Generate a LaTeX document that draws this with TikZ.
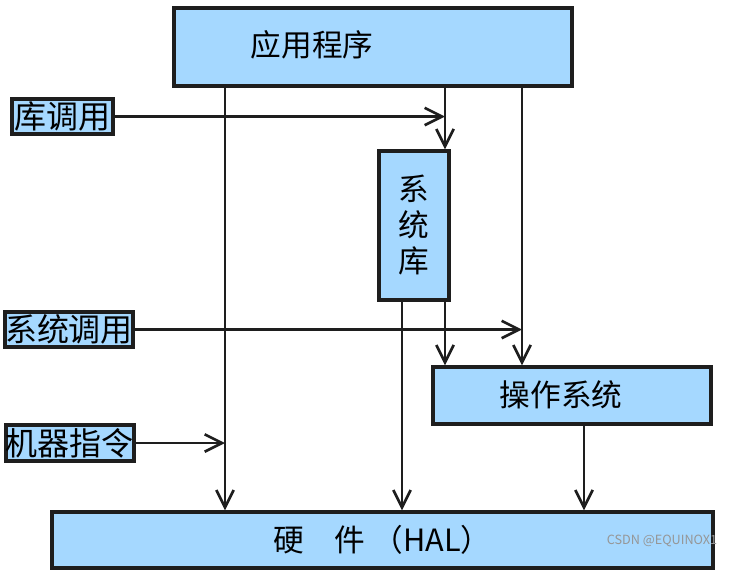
\documentclass[tikz,border=0pt]{standalone}
\usepackage{fontspec}
\setmainfont{Noto Sans CJK SC}
\usetikzlibrary{arrows.meta}

\tikzset{every picture/.style={line width=0.75pt}}
\tikzset{
  blockbox/.style={draw={rgb, 255:red, 30; green, 30; blue, 30 }, fill={rgb, 255:red, 165; green, 216; blue, 255 }, line width=2.6pt, inner sep=0pt, font=\fontsize{23}{27}\selectfont},
  calltag/.style={blockbox, line width=2.4pt, font=\fontsize{24}{28}\selectfont},
  flow/.style={draw={rgb, 255:red, 30; green, 30; blue, 30 }, line width=2pt, -{Straight Barb[length=13pt,width=13pt]}}
}

\begin{document}
\begin{tikzpicture}[x=0.75pt,y=0.75pt,yscale=-1,xscale=1]
\path[use as bounding box] (0,0) rectangle (735,586);

%Shape: Rectangle
\node [blockbox, minimum width=298.5pt, minimum height=58.5pt] (app) at (373,47) {};
% Text Node
\node [font=\fontsize{23}{27}\selectfont] (apptxt) at (312,45) {应用程序};
%Shape: Rectangle
\node [blockbox, minimum width=52.5pt, minimum height=111.75pt, align=center] (syslib) at (414,225.5) {系\\统\\库};
%Shape: Rectangle
\node [blockbox, minimum width=208.5pt, minimum height=42.75pt] (os) at (572,395.5) {};
% Text Node
\node [font=\fontsize{23}{27}\selectfont] (ostxt) at (561,395) {操作系统};
%Shape: Rectangle
\node [blockbox, minimum width=495.75pt, minimum height=42pt] (hw) at (382.5,540) {硬\quad 件 （HAL）};

%Shape: Rectangle
\node [calltag, minimum width=75.75pt, minimum height=26.25pt] (libcall) at (62.5,116.5) {库调用};
%Shape: Rectangle
\node [calltag, minimum width=96pt, minimum height=26.25pt] (syscall) at (69,329.5) {系统调用};
%Shape: Rectangle
\node [calltag, minimum width=96pt, minimum height=27pt] (machine) at (70,443) {机器指令};

% columns of the connectors
\coordinate (colL) at (225,0);
\coordinate (colM) at (402,0);
\coordinate (colS) at (445,0);
\coordinate (colR) at (522,0);
\coordinate (colO) at (584,0);

%Straight Lines
\draw [flow] (app.south -| colL) -- (hw.north -| colL);
\draw [flow] (app.south -| colS) -- (syslib.north -| colS);
\draw [flow] (app.south -| colR) -- (os.north -| colR);
\draw [flow] (syslib.south -| colM) -- (hw.north -| colM);
\draw [flow] (syslib.south -| colS) -- (os.north -| colS);
\draw [flow] (os.south -| colO) -- (hw.north -| colO);

%Straight Lines
\draw [flow] (libcall.east) -- (libcall.east -| colS);
\draw [flow] (syscall.east) -- (syscall.east -| colR);
\draw [flow] (machine.east) -- (machine.east -| colL);

% Text Node
\node [text={rgb, 255:red, 150; green, 150; blue, 150 }, font=\fontsize{9.5}{11}\selectfont] (mark) at (662,541) {CSDN @EQUINOX1};

\end{tikzpicture}
\end{document}
